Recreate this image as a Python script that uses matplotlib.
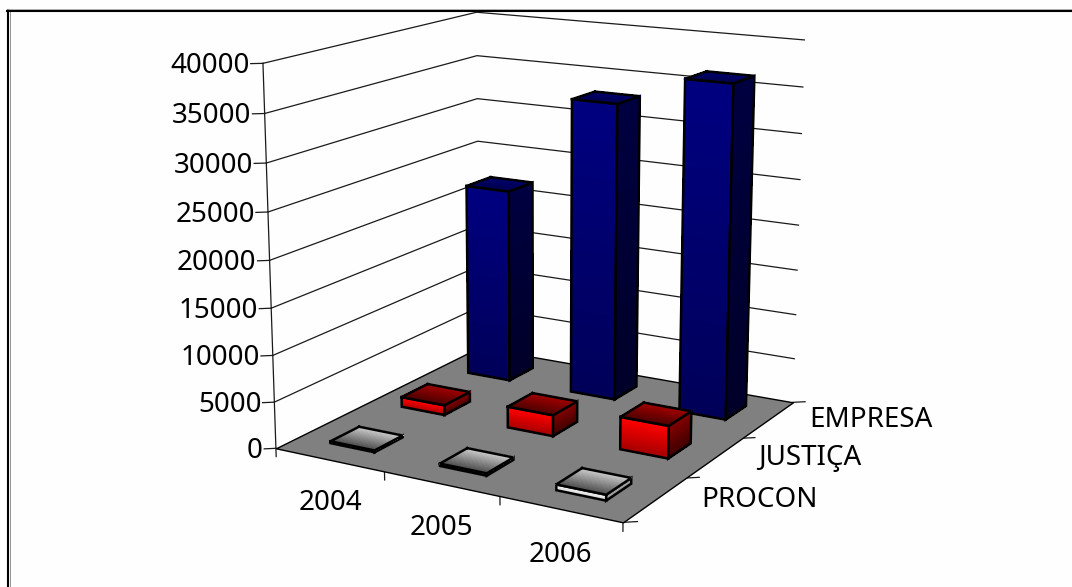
import numpy as np
import matplotlib
matplotlib.use('Agg')
import matplotlib.pyplot as plt
from matplotlib.lines import Line2D
from mpl_toolkits.mplot3d.art3d import Poly3DCollection

plt.rcParams['font.family'] = ['Noto Sans', 'DejaVu Sans']

years = ['2004', '2005', '2006']
sources = ['PROCON', 'JUSTIÇA', 'EMPRESA']
procon = [200, 250, 600]
justica = [1100, 2300, 3500]
empresa = [21900, 33000, 36400]
z_ticks = [0, 5000, 10000, 15000, 20000, 25000, 30000, 35000, 40000]
z_max = 40000

# colours: (front top, front bottom, side top, side bottom, top back, top front)
red_cols = ('#ff0000', '#a00000', '#800000', '#3c0000', '#a80000', '#500000')
blue_cols = ('#000080', '#000058', '#000040', '#000028', '#000070', '#000050')
gray_cols = ('#f4f4f4', '#c8c8c8', '#b0b0b0', '#707070', '#d4d4d4', '#505050')

bar_w = 0.41
bar_d = 0.39
n_grad = 24
fsize = 20

W, H = 1072, 587
fig = plt.figure(figsize=(W/100, H/100), dpi=100, facecolor='#fefefe')
size = 649.39
ax = fig.add_axes([(533.83-size/2)/W, (336.03-size/2)/H, size/W, size/H],
                  projection='3d', computed_zorder=False)
ax.patch.set_alpha(0)
ax.set_xlim(0, 3)
ax.set_ylim(0, 3)
ax.set_zlim(0, z_max)
ax.view_init(14.5054, -60.1387)
ax.set_proj_type('persp', focal_length=0.5993)
ax.set_box_aspect((0.9648, 0.9567, 0.9578))
ax.set_axis_off()


def lerp(c1, c2, t):
    a = np.array(matplotlib.colors.to_rgb(c1))
    b = np.array(matplotlib.colors.to_rgb(c2))
    return tuple(a + (b-a)*t)


def grad_face(p00, p10, p01, c0, c1, zo):
    # p00->p01 is the gradient direction, p00->p10 the width of the face
    p00, p10, p01 = np.array(p00, float), np.array(p10, float), np.array(p01, float)
    e1 = p10 - p00
    e2 = p01 - p00
    polys, cols = [], []
    for i in range(n_grad):
        a = p00 + e2*i/n_grad
        b = p00 + e2*(i+1)/n_grad
        polys.append([a, a+e1, b+e1, b])
        cols.append(lerp(c0, c1, (i+0.5)/n_grad))
    coll = Poly3DCollection(polys, facecolors=cols, edgecolors=cols, linewidths=0.6,
                            antialiased=False, zorder=zo)
    ax.add_collection3d(coll)
    o = np.array([p00, p00+e1, p00+e1+e2, p00+e2, p00])
    ax.plot(o[:, 0], o[:, 1], o[:, 2], color='black', lw=1.8, zorder=zo+0.1, solid_joinstyle='miter')


def bar(xc, yc, h, cols, zo):
    x0, x1 = xc-bar_w/2, xc+bar_w/2
    y0, y1 = yc-bar_d/2, yc+bar_d/2
    grad_face((x0, y0, h), (x1, y0, h), (x0, y0, 0), cols[0], cols[1], zo)
    grad_face((x1, y0, h), (x1, y1, h), (x1, y0, 0), cols[2], cols[3], zo+0.2)
    grad_face((x0, y1, h), (x1, y1, h), (x0, y0, h), cols[4], cols[5], zo+0.4)


# floor
floor = Poly3DCollection([[(0, 0, 0), (3, 0, 0), (3, 3, 0), (0, 3, 0)]],
                         facecolors='#808080', edgecolors='black', linewidths=1.0, zorder=1)
ax.add_collection3d(floor)

# gridlines on the two walls
for z in z_ticks[1:]:
    ax.plot([0, 0, 3], [0, 3, 3], [z, z, z], color='#1a1a1a', lw=0.9, zorder=0.5)
ax.plot([0, 0], [0, 0], [0, z_max], color='#1a1a1a', lw=0.9, zorder=0.6)

# value axis ticks and labels
for z in z_ticks:
    ax.plot([0, -0.07], [0, -0.055], [z, z], color='#1a1a1a', lw=0.9, zorder=0.6)
    ax.text(-0.078, -0.061, z-250, str(z), ha='right', va='center', fontsize=fsize, color='black')

# year axis
for i in range(len(years)+1):
    ax.plot([i, i], [0, 0], [0, -900], color='#1a1a1a', lw=0.9, zorder=0.6)
for i, y in enumerate(years):
    ax.text(i+0.5, 0, -4700, y, ha='center', va='center', fontsize=fsize, color='black')

# source axis
for i in range(len(sources)+1):
    ax.plot([3, 3.08], [i, i+0.063], [0, 0], color='#1a1a1a', lw=0.9, zorder=0.6)
for i, s in enumerate(sources):
    ax.text(3.28, i+0.68, -80, s, ha='left', va='center', fontsize=fsize, color='black')

# bars, back row first
zo = 2
for row, vals, cols in [(2, empresa, blue_cols), (1, justica, red_cols), (0, procon, gray_cols)]:
    for i in range(len(years)):
        bar(i+0.5, row+0.53 if row == 2 else row+0.5, vals[i], cols, zo)
        zo += 1

# chart area border, only the top and left edges are in the crop
fig.add_artist(Line2D([8.3/W, 8.3/W], [0, 1-9.5/H], color='black', lw=1.5, transform=fig.transFigure))
fig.add_artist(Line2D([9.7/W, 9.7/W], [0, 1-12/H], color='#808080', lw=0.6, transform=fig.transFigure))
fig.add_artist(Line2D([7.3/W, 1], [1-10.7/H, 1-10.7/H], color='black', lw=1.5, transform=fig.transFigure))
fig.add_artist(Line2D([7.3/W, 1], [1-9.3/H, 1-9.3/H], color='#a0a0a0', lw=0.6, transform=fig.transFigure))
fig.savefig('out.png', dpi=100, facecolor=fig.get_facecolor())
